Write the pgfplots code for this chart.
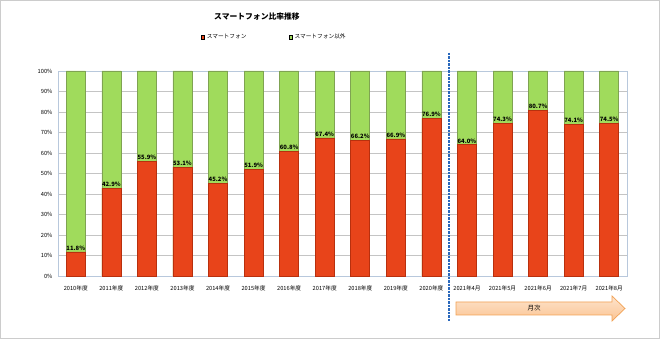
\documentclass[border=0pt]{standalone}
\usepackage{pgfplots}
\pgfplotsset{compat=1.18}
\usepackage{fontspec}
\setmainfont{Noto Sans CJK JP}
\definecolor{sred}{HTML}{E8441A}
\definecolor{sredE}{HTML}{B8300E}
\definecolor{sgreen}{HTML}{A0DB5C}
\definecolor{sgreenE}{HTML}{7FA352}
\definecolor{axc}{HTML}{B8C8DC}
\definecolor{gridc}{HTML}{C4C4C4}
\definecolor{dblue}{HTML}{2A68BC}
\definecolor{arrE}{HTML}{F2A255}
\definecolor{arrT}{HTML}{FDE4CD}
\definecolor{arrB}{HTML}{FBC391}
\pgfplotstableread{
x smart
0 11.8
1 42.9
2 55.9
3 53.1
4 45.2
5 51.9
6 60.8
7 67.4
8 66.2
9 66.9
10 76.9
11 64.0
12 74.3
13 80.7
14 74.1
15 74.5
}\smart
\pgfplotstableread{
x total
0 100
1 100
2 100
3 100
4 100
5 100
6 100
7 100
8 100
9 100
10 100
11 100
12 100
13 100
14 100
15 100
}\total
\begin{document}
\begin{tikzpicture}[x=1pt,y=1pt]
\useasboundingbox (0,0) rectangle (660,339);
\fill[white] (0,0) rectangle (660,339);
\draw[gray!40, line width=1.2pt] (0.6,0.6) rectangle (659.4,338.4);
\begin{axis}[
  at={(58pt,63pt)}, anchor=south west,
  scale only axis, width=569pt, height=205pt,
  xmin=-0.5, xmax=15.5, ymin=0, ymax=100,
  ybar, bar width=19pt,
  xtick={0,...,15},
  xticklabels={2010年度,2011年度,2012年度,2013年度,2014年度,2015年度,2016年度,2017年度,2018年度,2019年度,2020年度,2021年4月,2021年5月,2021年6月,2021年7月,2021年8月},
  ytick={0,10,...,100},
  yticklabels={0\%,10\%,20\%,30\%,40\%,50\%,60\%,70\%,80\%,90\%,100\%},
  ymajorgrids, major grid style={gridc, line width=0.6pt},
  axis line style={axc, line width=0.8pt},
  tick style={draw=none},
  xticklabel style={font=\fontsize{5.7}{6}\selectfont, yshift=-1.5pt},
  yticklabel style={font=\fontsize{5.7}{6}\selectfont, xshift=-2pt},
  clip=false,
  legend style={at={(0.38,1.166)}, anchor=center, draw=none, fill=none,
    font=\fontsize{5.7}{6}\selectfont, inner sep=0pt,
    /tikz/every even column/.append style={column sep=40pt}},
  legend columns=2,
  legend image code/.code={\fill[#1] (0pt,-1.8pt) rectangle (3.6pt,1.8pt);},
]
\addlegendimage{fill=sred}
\addlegendentry{スマートフォン}
\addlegendimage{fill=sgreen}
\addlegendentry{スマートフォン以外}
\addplot[forget plot, bar shift=0pt, fill=sgreen, draw=sgreenE, line width=0.6pt] table[x=x,y=total]{\total};
\addplot[forget plot, bar shift=0pt, fill=sred, draw=sredE, line width=0.6pt,
  nodes near coords={\pgfmathprintnumber[fixed,fixed zerofill,precision=1]{\pgfplotspointmeta}\%},
  every node near coord/.append style={font=\bfseries\fontsize{5.9}{6}\selectfont, black, anchor=south, inner sep=0.5pt, yshift=0.8pt},
  /pgf/number format/assume math mode=true
  ] table[x=x,y=smart]{\smart};
\draw[dblue, line width=2.3pt, dash pattern=on 2.1pt off 1.4pt] (axis cs:10.5,108.8) -- (axis cs:10.5,-22);
\end{axis}
\node[font=\bfseries\fontsize{7.8}{9}\selectfont] at (257,322) {スマートフォン比率推移};
\draw[arrE, line width=0.7pt, top color=arrT, bottom color=arrB]
  (456,24) -- (612,24) -- (612,18) -- (625,30.5) -- (612,43) -- (612,37) -- (456,37) -- cycle;
\node[font=\fontsize{6.5}{7}\selectfont] at (534,30.5) {月次};
\end{tikzpicture}
\end{document}
